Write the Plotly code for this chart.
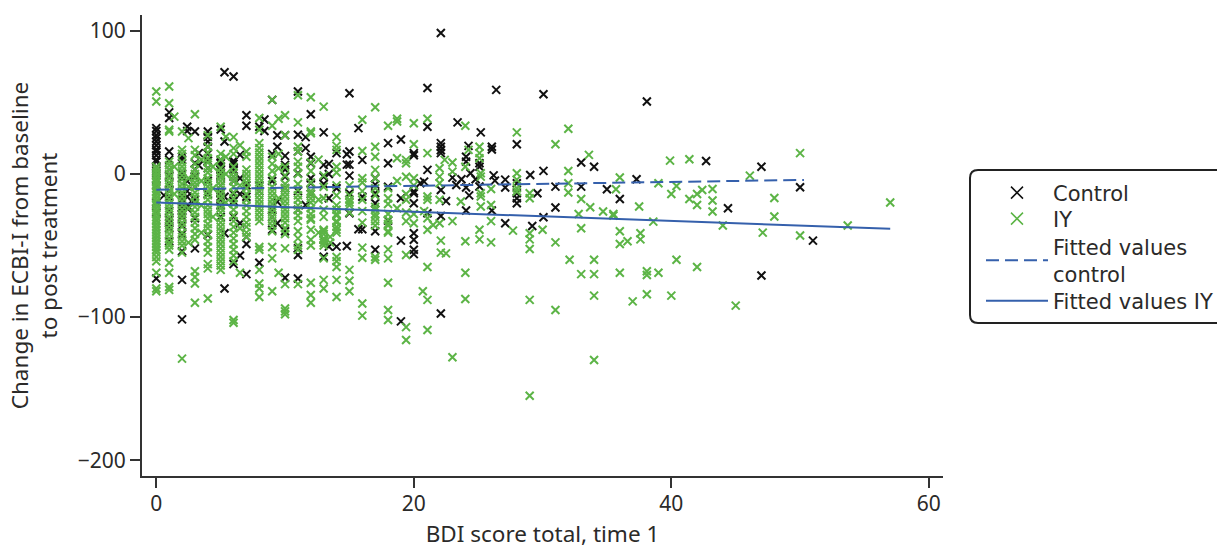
import plotly.graph_objects as go

# Values: (BDI score, [change in ECBI-I, ...])
control_columns = [
 (0,[32,30,27,25,22.6,20,17,15.6,13,10,8.6,5,2,-1,-4,-8,-20,-27,-73]),
 (0.6,[-15]),
 (1,[43,39,15.6,10,3,-1,-6.5,-12,-16,-26,-32,-34.5,-38,-47]),
 (2,[12,10,0,-3,-15,-18,-23,-24,-26,-28,-30,-36,-42,-54,-74,-101.6]),
 (2.4,[33,30,-5,-12,-16,-22,-24]),
 (3,[29.6,7.5,3,-2,-9,-18,-31,-52]),
 (3.3,[14.5,6]),
 (4,[29.6,26,22.6,19,14,9,4,-5,-14,-42.7]),
 (5,[31,10,8,7.5,5,3,1,-1,-2,-8,-13,-16,-18,-22,-30]),
 (5.3,[71,22.6,-16,-41.5,-80]),
 (6,[68,9,8.6,7,3,-2,-5,-14,-19,-30,-63]),
 (6.5,[13.3,-3,-14,-34.5,-57]),
 (7,[41,33.6,-8,-16,-44,-49,-70]),
 (8,[33,-8,-12,-62]),
 (8.4,[38,30]),
 (9,[51.7,14,-5,-25,-30,-39]),
 (9.4,[27,19,-19.4,-34.5]),
 (10,[27,12.6,6.3,3,-2,-10,-40,-72.5]),
 (11,[57.6,27.3,15.6,0.5,-12,-25,-52,-56.6,-73]),
 (11.6,[25.7,18,-21.7]),
 (12,[41.7,12,7.5,-3,-6.5,-14]),
 (13,[29,6.3,-2,-7,-46,-57.8]),
 (13.4,[7,0,-17,-50.8]),
 (14,[14.5,-10,-50.8]),
 (14.8,[13.7,6.5,-50.4]),
 (15,[56.4,15.6,6.5,-1.2,-13.5,-27.5]),
 (15.7,[32,-38.7]),
 (16,[9.8,-16,-38.7]),
 (17,[-3,-7.5,-13.5,-20.5,-40,-53]),
 (18,[21.5,7.5,-9,-32.6]),
 (19,[24,-17,-46.6,-103]),
 (20,[14.5,13,-12.3,-13.5,-20.5,-41.5,-46,-53,-56]),
 (20.5,[-6.5]),
 (20.8,[-5.4]),
 (21.06,[60,33,2.8,-27.5]),
 (22.1,[98.4,21.5,19,16.5,14.5,-11.2,-29.4,-97.5]),
 (22.5,[-18.9]),
 (23,[-2.6]),(23.3,[-7.7]),(23.4,[36]),(23.7,[-3.7]),
 (24.06,[12,8.6,-9.5,-25.6]),
 (24.25,[19.6]),(24.3,[-15]),(24.4,[0.5]),(24.8,[-3.7]),
 (25.1,[7.5,5,-8.8]),(25.2,[29]),
 (26.06,[19,17,-25.6]),(26.2,[-1]),(26.3,[-4.7]),(26.4,[58.7]),
 (27.1,[-4,-9.5,-34.5]),
 (28,[20.7,-6.5,-13.5,-17,-20.5]),
 (29.04,[-0.7]),(29.2,[-36.4]),(29.6,[-13.5]),
 (30.07,[55.7,2.1,-30.3]),
 (31,[-8.9,-23.5]),
 (33,[8,-8.9]),(34,[5]),(35,[-10.7]),(36,[-17.5]),(37.3,[-3.7]),(38.1,[50.6]),
 (42.7,[9]),(44.4,[-24]),(47,[5,-71]),(50,[-9.3]),(51,[-46.6]),
]

iy_columns = [
 (0,[57.6,50.6,5,3,1,-1,-3,-5,-6,-8,-10,-12,-13,-15,-17,-19,-21,-22,-24,-26,-28,-30,-32,-33,-35,-37,-39,-41,-43,-45,-47,-49,-51,-53,-55,-58,-61,-69,-80,-82]),
 (1,[61,49.4,30.8,29.6,8.6,6,3,0,-3,-6,-9,-12,-15,-18,-21,-24,-27,-30,-33,-36,-39,-42,-45,-48,-50,-53,-62,-69,-79,-81]),
 (1.4,[40,5,-14]),
 (2,[29.6,16.8,14,8,5,2,-1,-4,-7,-10,-13,-16,-19,-22,-25,-28,-31,-34,-37,-41,-44,-47,-50,-55,-129]),
 (2.5,[25,-3,-9,-24,-48]),
 (3,[41.7,16.8,13,7,3,0,-3,-6,-9,-13,-16,-20,-23,-27,-30,-34,-38,-42,-46,-68,-72,-76.5,-90]),
 (3.5,[10,-5,-22,-41]),
 (4,[27,19,15,11,8,4,1,-3,-6,-9,-12,-15,-18,-22,-25,-28,-31,-35,-38,-42,-47,-51,-55,-63,-66,-87]),
 (4.4,[5,-10,-30]),
 (5,[33,14,10,4,1,-2,-5,-8,-11,-14,-17,-21,-24,-27,-31,-34,-37,-40,-43,-46,-49,-52,-55,-58,-61,-64,-67]),
 (5.4,[26,12,0,-20]),
 (6,[25.7,18,14,5,1,-2,-5,-9,-13,-17,-21,-25,-29,-33,-37,-41,-45,-49,-53,-57,-61,-102,-104]),
 (6.5,[20,-8,-38,-69]),
 (7,[15.6,12,3,0,-3,-6,-10,-14,-18,-22,-26,-30,-34,-37,-41,-44]),
 (8,[39,30.8,21.5,18,15,12,9,6,3,0,-3,-6,-9,-12,-15,-18,-21,-24,-27,-30,-33,-51,-53,-67,-76.5,-80,-86]),
 (9,[51.7,33.6,12,7,2,-3,-9,-12,-15,-18,-21,-24,-27,-30,-33,-36,-40,-51,-59,-82]),
 (9.5,[38.5,14,4,-17,-69]),
 (10,[41,27,5,-1,-7,-10,-13,-16,-19,-22,-25,-28,-31,-34,-38,-42,-52,-77,-94,-96,-98]),
 (11,[55,36,19,15.6,8.6,5,0,-7,-11,-15,-18,-22,-25,-29,-33,-40,-45,-50,-53,-77]),
 (12,[53.6,29.6,28.4,8,2,-6,-12,-14,-17,-20,-24,-28,-31,-32,-39,-46,-50,-76,-84.6,-90]),
 (12.6,[10,-18,-41]),
 (13,[47,-1,-9,-17,-25,-30,-39,-40,-42,-45,-46,-48,-50,-59,-74,-80]),
 (13.5,[-44,-48]),
 (14,[25.7,19.6,16.8,5,1,-8,-15,-22,-25,-28,-29,-33,-34,-37,-39,-41,-58,-61,-65,-74,-86]),
 (15,[-8,-15,-18,-20,-22,-27,-67,-74.6,-82]),
 (16,[37.8,16,-3,-6,-12,-18,-26,-34,-51.5,-58.5,-90.5,-99]),
 (17,[46.6,19,12,2.8,-3,-10,-15,-23,-25,-28,-30,-33,-36,-58,-60]),
 (18,[33.6,-10,-17,-21,-28,-32,-35,-36,-40,-41,-52.7,-59,-76,-95,-102]),
 (18.7,[38.5,36.6,11,-5,-24]),
 (19.4,[9.8,7.5,-2,-14,-18,-27,-33,-56.6,-107,-116]),
 (20,[35.4,20.7,-3,-8,-28,-34.5]),
 (20.7,[-82]),(20.8,[-26]),
 (21.06,[38.5,14.5,-15.8,-18,-31,-39,-65,-88,-109]),
 (21.5,[-35.7]),
 (22,[4,-1.9,-6.5,-18,-34.5]),
 (22.1,[-46.6,-55]),(22.4,[9.8]),(22.5,[-55.5]),
 (23,[8,1.6,-33,-128]),(23.65,[-19.3]),
 (24,[33.6,5,-47,-69,-87.4]),(24.25,[16.8]),
 (25.1,[19,14.5,11,-39,-45.7]),
 (25.2,[0.5,-1.9,-13.5,-15.8,-22.8]),
 (26,[-10.5,-21.7,-33,-47.8]),
 (27.7,[-39.6]),
 (28,[29,0.5,-4,-10,-12.3]),
 (29,[-13.5,-17,-41.5,-45.7,-52.5,-88,-155]),
 (30,[-39]),(31,[20.7,-47.8,-95]),
 (32,[31.5,2,-6.5,-13]),(32.1,[-60]),(32.8,[-28]),
 (33,[-17.5,-38,-70]),(33.6,[13.3]),(33.7,[-23.3]),
 (34,[-60,-70,-85,-130]),(34.7,[-26.3]),(35.5,[-28,-29]),(35.7,[-10.7]),
 (36,[-2.5,-40,-49,-69]),(36.6,[-47]),(37,[-89]),
 (37.5,[-22.8]),(37.6,[-41.5,-45.7]),(38.1,[-68,-70.6,-84]),(38.6,[-33.3]),
 (39,[-6.5,-69]),(39.9,[9.3]),(40,[-14,-85]),(40.4,[-8.4,-60]),
 (41.4,[10.3,-17.5]),(42,[-14,-21.7,-65]),(42.4,[-11.2]),
 (43.2,[-10.5,-18.6,-26.3]),(44,[-36]),(45,[-92]),(46.1,[-1.2]),
 (47.1,[-41]),(48,[-16.8,-29.8]),(50,[14.5,-43]),(53.7,[-36]),(57,[-20]),
]

fit_control_x = [0, 50.3]
fit_control_y = [-11, -4.2]
fit_iy_x = [0, 57]
fit_iy_y = [-20, -38.3]

x_ticks = [0, 20, 40, 60]
y_ticks = [-200, -100, 0, 100]

def expand(columns):
    xs, ys = [], []
    for x, vals in columns:
        for v in vals:
            xs.append(x)
            ys.append(v)
    return xs, ys

control_x, control_y = expand(control_columns)
iy_x, iy_y = expand(iy_columns)

FONT = "Noto Sans"
LEGEND_FONT = "DejaVu Sans"
INK = "#2b2a29"
BLACK = "#111111"
GREEN = "#5cb446"
BLUE = "#3560ac"
DASH = "13px,6px"

fig = go.Figure()
fig.add_trace(go.Scatter(x=control_x, y=control_y, mode="markers", name="Control", showlegend=False,
    marker=dict(symbol="x-thin", size=8, color=BLACK, line=dict(color=BLACK, width=2))))
fig.add_trace(go.Scatter(x=iy_x, y=iy_y, mode="markers", name="IY", showlegend=False,
    marker=dict(symbol="x-thin", size=8, color=GREEN, line=dict(color=GREEN, width=2))))
fig.add_trace(go.Scatter(x=fit_control_x, y=fit_control_y, mode="lines", showlegend=False,
    name="Fitted values control", line=dict(color=BLUE, width=2, dash=DASH)))
fig.add_trace(go.Scatter(x=fit_iy_x, y=fit_iy_y, mode="lines", showlegend=False,
    name="Fitted values IY", line=dict(color=BLUE, width=2)))

# legend-only keys: the reference draws larger, thinner crosses in its key
fig.add_trace(go.Scatter(x=[None], y=[None], mode="markers", name="Control", legend="legend",
    marker=dict(symbol="x-thin", size=12, color=BLACK, line=dict(color=BLACK, width=1.5))))
fig.add_trace(go.Scatter(x=[None], y=[None], mode="markers", name="IY", legend="legend2",
    marker=dict(symbol="x-thin", size=12, color=GREEN, line=dict(color=GREEN, width=1.5))))
fig.add_trace(go.Scatter(x=[None], y=[None], mode="lines", name="Fitted values<br>control", legend="legend3",
    line=dict(color=BLUE, width=2, dash=DASH)))
fig.add_trace(go.Scatter(x=[None], y=[None], mode="lines", name="Fitted values IY", legend="legend4",
    line=dict(color=BLUE, width=2)))

W, H = 1217, 549
L, R, T, B = 142, 274, 15, 73
pw, ph = W-L-R, H-T-B
def px(v): return (v-L)/pw
def py(v): return 1-(v-T)/ph
x0,x1,y0,y1,r = 970,1240,170,323,8
path = (f"M {px(x0+r)} {py(y0)} L {px(x1)} {py(y0)} L {px(x1)} {py(y1)} L {px(x0+r)} {py(y1)} "
        f"Q {px(x0)} {py(y1)} {px(x0)} {py(y1-r)} L {px(x0)} {py(y0+r)} Q {px(x0)} {py(y0)} {px(x0+r)} {py(y0)} Z")

def legend_at(center_y):
    return dict(x=px(981), y=py(center_y), xanchor="left", yanchor="middle",
                bgcolor="rgba(0,0,0,0)", borderwidth=0, itemwidth=62,
                font=dict(family=LEGEND_FONT, size=21, color=INK))

fig.update_layout(
    width=W, height=H, margin=dict(l=L, r=R, t=T, b=B, pad=0, autoexpand=False),
    plot_bgcolor="white", paper_bgcolor="white",
    font=dict(family=FONT, size=21, color=INK),
    shapes=[dict(type="path", xref="paper", yref="paper", path=path,
                 line=dict(color="#222222", width=2), layer="below")],
    legend=legend_at(193), legend2=legend_at(219), legend3=legend_at(260.5), legend4=legend_at(301),
    xaxis=dict(range=[-1.11, 61.1], tickvals=x_ticks, ticks="outside", ticklen=10, tickwidth=2,
               tickcolor="#333333", showline=True, linecolor="#333333", linewidth=2, automargin=True,
               showgrid=False, zeroline=False, tickfont=dict(size=21), ticklabelstandoff=-2,
               title=dict(text="BDI score total, time 1", font=dict(size=22.5), standoff=13)),
    yaxis=dict(range=[-211, 111], tickvals=y_ticks, ticks="outside", ticklen=10, tickwidth=2,
               tickcolor="#333333", showline=True, linecolor="#333333", linewidth=2, automargin=False,
               showgrid=False, zeroline=False, tickfont=dict(size=21),
               title=dict(text="Change in ECBI-I from baseline<br>to post treatment",
                          font=dict(size=22.5), standoff=14)),
)
fig.write_html("out.html", post_script="document.body.style.margin='0';",
               config=dict(displayModeBar=False))
